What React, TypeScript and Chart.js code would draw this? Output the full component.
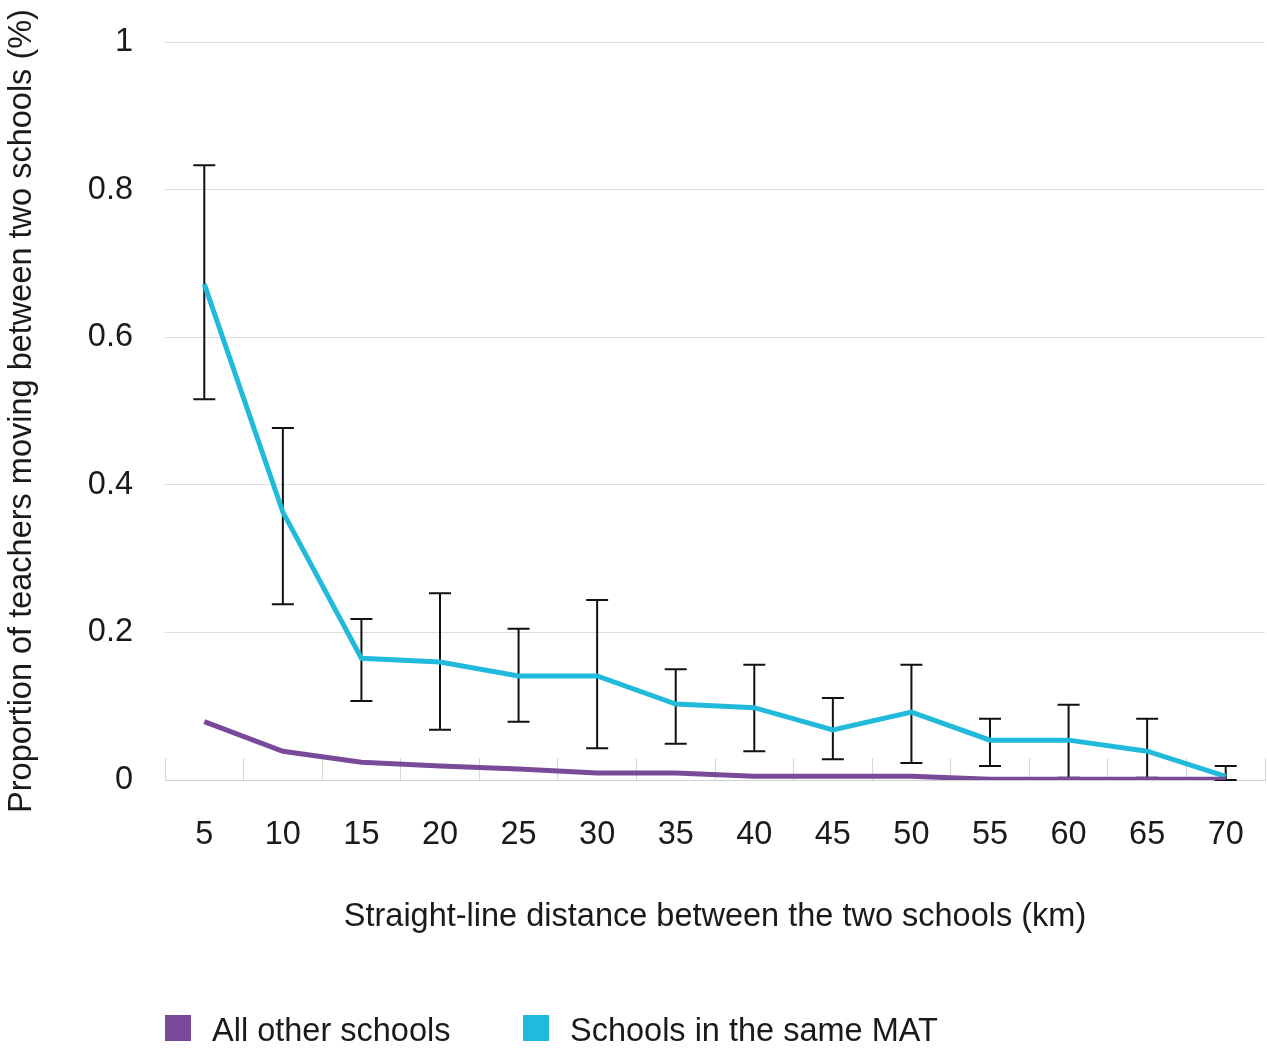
import React, { useEffect, useRef } from "react";
import { Chart, registerables } from "chart.js";

Chart.register(...registerables);

const categories = ["5", "10", "15", "20", "25", "30", "35", "40", "45", "50", "55", "60", "65", "70"];
const allOtherSchools = [0.079, 0.039, 0.024, 0.019, 0.015, 0.0095, 0.0095, 0.005, 0.005, 0.005, 0.001, 0.001, 0.001, 0.001];
const sameMat = [0.672, 0.363, 0.165, 0.16, 0.141, 0.141, 0.103, 0.098, 0.068, 0.092, 0.054, 0.054, 0.039, 0.005];
const sameMatUpper = [0.833, 0.477, 0.218, 0.253, 0.205, 0.244, 0.15, 0.156, 0.111, 0.156, 0.083, 0.102, 0.083, 0.019];
const sameMatLower = [0.516, 0.238, 0.107, 0.068, 0.079, 0.043, 0.049, 0.039, 0.028, 0.023, 0.019, 0.003, 0.003, 0.0];
const yTicks = [0, 0.2, 0.4, 0.6, 0.8, 1];

const PURPLE = "#7A4A9A";
const CYAN = "#22BADB";
const FONT = "'Liberation Sans', Arial, Helvetica, sans-serif";
const FS = 32.5;

const errorBarPlugin = {
  id: "errorBars",
  beforeDatasetsDraw(chart: any) {
    const meta = chart.getDatasetMeta(1);
    const yScale = chart.scales.y;
    const ctx = chart.ctx;
    ctx.save();
    ctx.strokeStyle = "#111";
    ctx.lineWidth = 2;
    meta.data.forEach((pt: any, i: number) => {
      const x = pt.x;
      const yHi = yScale.getPixelForValue(sameMatUpper[i]);
      const yLo = yScale.getPixelForValue(sameMatLower[i]);
      ctx.beginPath();
      ctx.moveTo(x, yHi);
      ctx.lineTo(x, yLo);
      ctx.moveTo(x - 11, yHi);
      ctx.lineTo(x + 11, yHi);
      ctx.moveTo(x - 11, yLo);
      ctx.lineTo(x + 11, yLo);
      ctx.stroke();
    });
    ctx.restore();
  },
};

const legendPlugin = {
  id: "customLegend",
  afterDraw(chart: any) {
    const ctx = chart.ctx;
    const left = chart.chartArea.left;
    const items = [
      { label: chart.data.datasets[0].label, color: chart.data.datasets[0].borderColor, x: left },
      { label: chart.data.datasets[1].label, color: chart.data.datasets[1].borderColor, x: left + 358 },
    ];
    ctx.save();
    ctx.font = `${FS}px ${FONT}`;
    ctx.textBaseline = "middle";
    ctx.textAlign = "left";
    items.forEach((it) => {
      ctx.fillStyle = it.color;
      ctx.fillRect(it.x, 1015, 26, 26);
      ctx.fillStyle = "#1a1a1a";
      ctx.fillText(it.label, it.x + 47, 1032);
    });
    ctx.restore();
  },
};

export default function App() {
  const ref = useRef<HTMLCanvasElement | null>(null);
  useEffect(() => {
    document.body.style.margin = "0";
    const canvas = ref.current;
    if (!canvas) return;
    const chart = new Chart(canvas, {
      type: "line",
      data: {
        labels: categories,
        datasets: [
          {
            label: "All other schools",
            data: allOtherSchools,
            borderColor: PURPLE,
            backgroundColor: PURPLE,
            borderWidth: 5,
            pointRadius: 0,
            tension: 0,
          },
          {
            label: "Schools in the same MAT",
            data: sameMat,
            borderColor: CYAN,
            backgroundColor: CYAN,
            borderWidth: 5,
            pointRadius: 0,
            tension: 0,
          },
        ],
      },
      options: {
        responsive: false,
        animation: false,
        layout: { padding: { top: 42, right: 2, left: 0, bottom: 0 } },
        plugins: {
          legend: { display: false },
          tooltip: { enabled: false },
        },
        scales: {
          x: {
            offset: true,
            grid: {
              offset: true,
              drawOnChartArea: false,
              drawTicks: true,
              tickLength: -22,
              color: "#d6d6d6",
              lineWidth: 1,
            },
            border: { display: true, color: "#d0d0d0", width: 1 },
            ticks: {
              color: "#1a1a1a",
              font: { family: FONT, size: FS },
              padding: 58,
              maxRotation: 0,
              autoSkip: false,
            },
            title: {
              display: true,
              text: "Straight-line distance between the two schools (km)",
              color: "#1a1a1a",
              font: { family: FONT, size: FS },
              padding: { top: 0, bottom: 111 },
            },
            afterFit(scale: any) {
              scale.height = 268;
              scale.paddingLeft = 0;
              scale.paddingRight = 0;
            },
          },
          y: {
            min: 0,
            max: 1,
            afterBuildTicks(scale: any) {
              scale.ticks = yTicks.map((v) => ({ value: v }));
            },
            grid: {
              drawTicks: false,
              color: "#dcdcdc",
              lineWidth: 1,
            },
            border: { display: false },
            ticks: {
              color: "#1a1a1a",
              font: { family: FONT, size: FS },
              padding: 32,
              callback: (v: any) => String(Number(v)),
            },
            title: {
              display: true,
              text: "Proportion of teachers moving between two schools (%)",
              color: "#1a1a1a",
              font: { family: FONT, size: FS },
              padding: { top: 3, bottom: 0 },
            },
            afterFit(scale: any) {
              scale.width = 165;
              scale.paddingTop = 0;
              scale.paddingBottom = 0;
            },
          },
        },
      },
      plugins: [errorBarPlugin, legendPlugin],
    });
    return () => chart.destroy();
  }, []);
  return (
    <div style={{ width: 1267, height: 1048 }}>
      <canvas ref={ref} width={1267} height={1048} style={{ display: "block" }} />
    </div>
  );
}
